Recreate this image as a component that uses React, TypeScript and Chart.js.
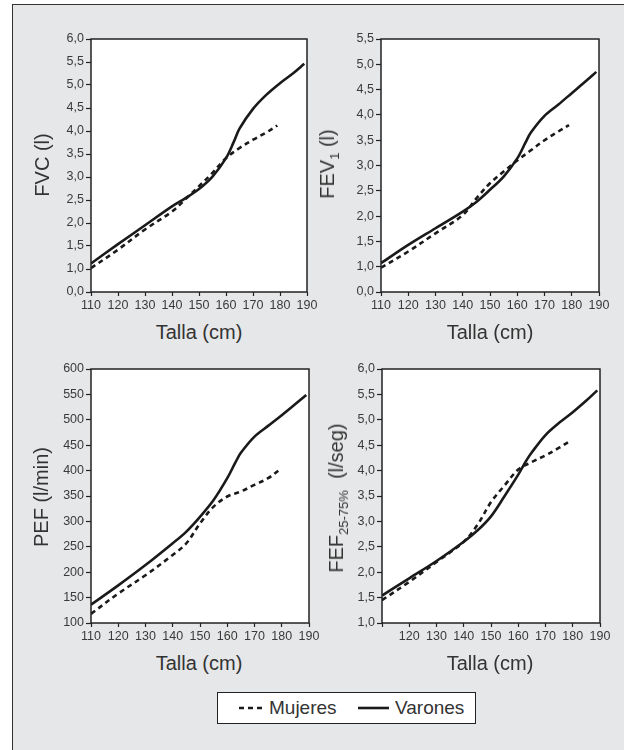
import React, { useEffect, useRef } from 'react';
import { Chart, registerables } from 'chart.js';

Chart.register(...registerables);

// ---------- data ----------
const tallaVarones = [110, 120, 130, 140, 145, 150, 155, 160, 163, 165, 170, 175, 180, 185, 189];
const tallaMujeres = [110, 120, 130, 140, 145, 150, 155, 160, 165, 170, 175, 179];
const tallaTicks = [110, 120, 130, 140, 150, 160, 170, 180, 190];

const fvcVarones = [1.12, 1.54, 1.95, 2.36, 2.54, 2.74, 3.01, 3.41, 3.78, 4.05, 4.48, 4.79, 5.04, 5.26, 5.46];
const fvcMujeres = [1.02, 1.42, 1.86, 2.25, 2.52, 2.8, 3.09, 3.41, 3.63, 3.81, 3.97, 4.12];

const fev1Varones = [1.07, 1.43, 1.76, 2.09, 2.28, 2.52, 2.78, 3.14, 3.45, 3.65, 3.98, 4.2, 4.43, 4.66, 4.85];
const fev1Mujeres = [0.98, 1.3, 1.66, 2.02, 2.35, 2.65, 2.88, 3.1, 3.3, 3.5, 3.67, 3.8];

const pefVarones = [136, 174, 214, 257, 280, 309, 342, 385, 416, 435, 467, 488, 509, 531, 549];
const pefMujeres = [118, 158, 194, 234, 257, 296, 329, 349, 359, 372, 385, 401];

const fefVarones = [1.54, 1.88, 2.22, 2.6, 2.82, 3.1, 3.5, 3.92, 4.2, 4.36, 4.7, 4.94, 5.15, 5.38, 5.58];
const fefMujeres = [1.45, 1.81, 2.2, 2.6, 2.93, 3.38, 3.71, 4.02, 4.17, 4.3, 4.45, 4.58];

const seriesNames = ['Mujeres', 'Varones'];

// ---------- helpers ----------
const FONT = "'Liberation Sans', Arial, sans-serif";
const comma1 = (v: number) => v.toFixed(1).replace('.', ',');
const brokenAxisLabel = (v: number) => (Math.abs(v - 0.5) < 1e-6 ? '0,0' : comma1(v));
const toPoints = (xs: number[], ys: number[]) => xs.map((x, i) => ({ x, y: ys[i] }));

type PanelProps = {
  left: number; top: number; width: number; height: number;
  yMin: number; yMax: number; yStep: number;
  yLabel: (v: number) => string;
  hideFirstX?: boolean;
  varones: number[]; mujeres: number[];
};

const PADL = 60, PADT = 15, PADR = 20, PADB = 25;

function Panel(p: PanelProps) {
  const ref = useRef<HTMLCanvasElement | null>(null);
  useEffect(() => {
    if (!ref.current) return;
    const areaPlugin = {
      id: 'areaFrame',
      beforeDraw(chart: any) {
        const { ctx, chartArea: a } = chart;
        ctx.save();
        ctx.fillStyle = '#ffffff';
        ctx.fillRect(a.left, a.top, a.right - a.left, a.bottom - a.top);
        ctx.restore();
      },
      afterDraw(chart: any) {
        const { ctx, chartArea: a } = chart;
        ctx.save();
        ctx.strokeStyle = '#222';
        ctx.lineWidth = 1.5;
        ctx.strokeRect(a.left, a.top, a.right - a.left, a.bottom - a.top);
        ctx.restore();
      },
    };
    const lineCommon = {
      borderColor: '#1a1a1a',
      borderWidth: 2.6,
      pointRadius: 0,
      tension: 0.35,
      cubicInterpolationMode: 'default',
      fill: false,
    };
    const chart = new Chart(ref.current, {
      type: 'line',
      data: {
        datasets: [
          { ...lineCommon, label: seriesNames[0], data: toPoints(tallaMujeres, p.mujeres), borderDash: [5, 4] },
          { ...lineCommon, label: seriesNames[1], data: toPoints(tallaVarones, p.varones) },
        ],
      } as any,
      options: {
        animation: false,
        responsive: false,
        layout: { padding: { left: 0, top: PADT, right: PADR, bottom: 0 } },
        plugins: { legend: { display: false }, tooltip: { enabled: false } },
        scales: {
          x: {
            type: 'linear',
            min: 110,
            max: 190,
            afterFit: (s: any) => { s.height = PADB; },
            afterBuildTicks: (s: any) => { s.ticks = tallaTicks.map((v) => ({ value: v })); },
            ticks: {
              autoSkip: false,
              maxRotation: 0,
              padding: 2,
              color: '#3a3a3a',
              font: { family: FONT, size: 12.5 },
              callback: (v: any) => (p.hideFirstX && v === 110 ? '' : String(v)),
            },
            grid: { drawOnChartArea: false, drawTicks: true, tickLength: 4, tickColor: '#222', tickWidth: 1.2 },
            border: { display: false },
          },
          y: {
            type: 'linear',
            min: p.yMin,
            max: p.yMax,
            afterFit: (s: any) => { s.width = PADL; },
            ticks: {
              stepSize: p.yStep,
              maxTicksLimit: 30,
              autoSkip: false,
              padding: 2,
              color: '#3a3a3a',
              font: { family: FONT, size: 12.5 },
              callback: (v: any) => p.yLabel(Number(v)),
            },
            grid: { drawOnChartArea: false, drawTicks: true, tickLength: 5, tickColor: '#222', tickWidth: 1.2 },
            border: { display: false },
          },
        },
      } as any,
      plugins: [areaPlugin],
    });
    return () => chart.destroy();
  }, []);
  const w = p.width + PADL + PADR;
  const h = p.height + PADT + PADB;
  return (
    <canvas
      ref={ref}
      width={w}
      height={h}
      style={{ position: 'absolute', left: p.left - PADL, top: p.top - PADT, width: w, height: h }}
    />
  );
}

function VTitle({ x, y, children }: { x: number; y: number; children: any }) {
  return (
    <div
      style={{
        position: 'absolute', left: x, top: y,
        transform: 'translate(-50%, -50%) rotate(-90deg)',
        whiteSpace: 'nowrap', fontFamily: FONT, fontSize: 20, color: '#333', lineHeight: '24px',
      }}
    >
      {children}
    </div>
  );
}

function HTitle({ x, y, text }: { x: number; y: number; text: string }) {
  return (
    <div
      style={{
        position: 'absolute', left: x, top: y, transform: 'translate(-50%, -50%)',
        whiteSpace: 'nowrap', fontFamily: FONT, fontSize: 20, color: '#333', lineHeight: '24px',
      }}
    >
      {text}
    </div>
  );
}

const subStyle: any = { fontSize: 13, verticalAlign: '-5px', lineHeight: 0 };

export default function App() {
  return (
    <div style={{ position: 'absolute', left: 0, top: 0, width: 624, height: 750, overflow: 'hidden', background: '#fff' }}>
      <div style={{ position: 'absolute', left: 12, top: 4, width: 700, height: 800, background: '#e6e7e8', border: '1.5px solid #333' }} />

      <Panel left={91} top={39} width={216} height={253} yMin={0.5} yMax={6} yStep={0.5}
        yLabel={brokenAxisLabel} varones={fvcVarones} mujeres={fvcMujeres} />
      <Panel left={381} top={39} width={218} height={253} yMin={0.5} yMax={5.5} yStep={0.5}
        yLabel={brokenAxisLabel} varones={fev1Varones} mujeres={fev1Mujeres} />
      <Panel left={91} top={369} width={218} height={254} yMin={100} yMax={600} yStep={50}
        yLabel={(v) => String(Math.round(v))} varones={pefVarones} mujeres={pefMujeres} />
      <Panel left={382} top={369} width={218} height={254} yMin={1} yMax={6} yStep={0.5}
        yLabel={comma1} hideFirstX varones={fefVarones} mujeres={fefMujeres} />

      <VTitle x={42} y={165}>FVC (l)</VTitle>
      <VTitle x={327} y={164}>FEV<span style={subStyle}>1</span> (l)</VTitle>
      <VTitle x={41} y={497}>PEF (l/min)</VTitle>
      <VTitle x={336} y={498}>FEF<span style={subStyle}>25-75%</span>&nbsp; (l/seg)</VTitle>

      <HTitle x={199} y={332} text="Talla (cm)" />
      <HTitle x={490} y={332} text="Talla (cm)" />
      <HTitle x={199} y={663} text="Talla (cm)" />
      <HTitle x={490} y={663} text="Talla (cm)" />

      <div style={{ position: 'absolute', left: 217, top: 692, width: 259, height: 32, boxSizing: 'border-box', background: '#fff', border: '1.5px solid #222' }}>
        <svg width={30} height={10} style={{ position: 'absolute', left: 20, top: 10 }}>
          <line x1={1} y1={5} x2={25} y2={5} stroke="#1a1a1a" strokeWidth={2.6} strokeDasharray="5,4" />
        </svg>
        <div style={{ position: 'absolute', left: 51, top: 3, fontFamily: FONT, fontSize: 19, color: '#333', lineHeight: '24px' }}>{seriesNames[0]}</div>
        <svg width={40} height={10} style={{ position: 'absolute', left: 139, top: 10 }}>
          <line x1={1} y1={5} x2={32} y2={5} stroke="#1a1a1a" strokeWidth={2.6} />
        </svg>
        <div style={{ position: 'absolute', left: 177, top: 3, fontFamily: FONT, fontSize: 19, color: '#333', lineHeight: '24px' }}>{seriesNames[1]}</div>
      </div>
    </div>
  );
}
